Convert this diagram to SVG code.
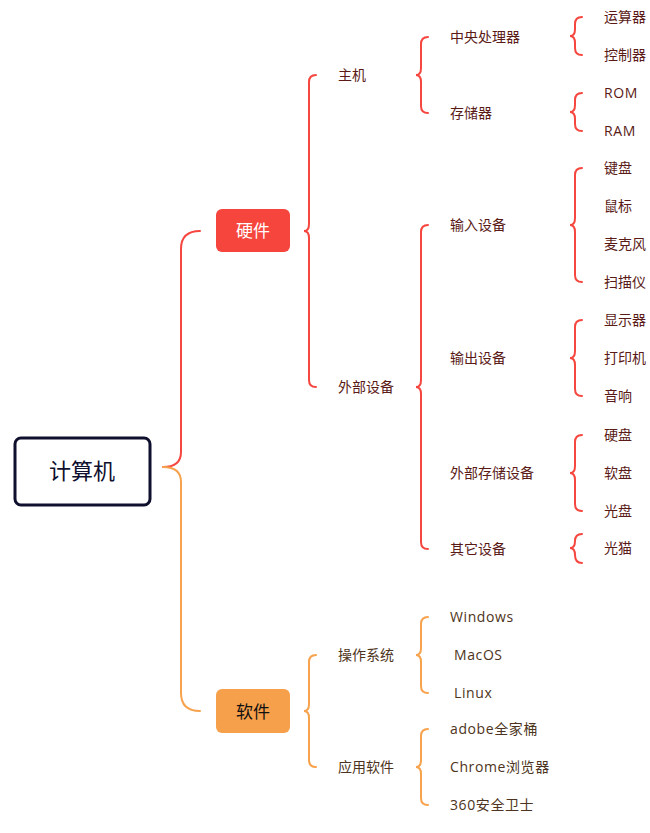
<svg xmlns="http://www.w3.org/2000/svg" width="650" height="833" viewBox="0 0 650 833">
<style>
.t{font-family:"Noto Sans CJK SC","Open Sans",sans-serif;font-size:14px;dominant-baseline:central}
.l{font-family:"Open Sans","Noto Sans CJK SC",sans-serif;font-size:14px;dominant-baseline:central;letter-spacing:0.6px}
.hw{fill:#5a1a16}
.sw{fill:#4d3420}
.br{fill:none;stroke:#f5473f;stroke-width:2;stroke-linecap:round}
.bo{fill:none;stroke:#f7a24d;stroke-width:2;stroke-linecap:round}
</style>
<rect width="650" height="833" fill="#ffffff"/>
<g id="connectors">
<path class="br" stroke-width="2.5" d="M200,231 Q181,231 181,249 L181,452 Q181,467 163,467"/>
<path class="bo" stroke-width="2.5" d="M163,467 Q181,467 181,482 L181,693 Q181,711 200,711"/>
<path class="br" d="M316,75 Q309,75 309,82 L309,224 Q309,231 304,231 Q309,231 309,238 L309,380 Q309,387 316,387"/>
<path class="bo" d="M316,655 Q309,655 309,662 L309,704 Q309,711 304,711 Q309,711 309,718 L309,760 Q309,767 316,767"/>
<path class="br" d="M428,37 Q421,37 421,44 L421,68 Q421,75 416,75 Q421,75 421,82 L421,106 Q421,113 428,113"/>
<path class="br" d="M428,225 Q421,225 421,232 L421,380 Q421,387 416,387 Q421,387 421,394 L421,542 Q421,549 428,549"/>
<path class="bo" d="M428,617 Q421,617 421,624 L421,648 Q421,655 416,655 Q421,655 421,662 L421,686 Q421,693 428,693"/>
<path class="bo" d="M428,729 Q421,729 421,736 L421,760 Q421,767 416,767 Q421,767 421,774 L421,798 Q421,805 428,805"/>
<path class="br" d="M582,17 Q575,17 575,24 L575,29 Q575,36 570,36 Q575,36 575,43 L575,48 Q575,55 582,55"/>
<path class="br" d="M582,93 Q575,93 575,100 L575,105 Q575,112 570,112 Q575,112 575,119 L575,124 Q575,131 582,131"/>
<path class="br" d="M582,168 Q575,168 575,175 L575,218 Q575,225 570,225 Q575,225 575,232 L575,275 Q575,282 582,282"/>
<path class="br" d="M582,320 Q575,320 575,327 L575,351 Q575,358 570,358 Q575,358 575,365 L575,389 Q575,396 582,396"/>
<path class="br" d="M582,435 Q575,435 575,442 L575,466 Q575,473 570,473 Q575,473 575,480 L575,504 Q575,511 582,511"/>
<path class="br" d="M582,534 Q575,534 575,541 Q575,548 570,548 Q575,548 575,555 Q575,563 582,563"/>
</g>
<g id="root">
<rect x="15" y="438" width="135" height="67" rx="6" fill="#ffffff" stroke="#0f0f2e" stroke-width="3"/>
<text x="82" y="469" font-family="Noto Sans CJK SC, sans-serif" font-size="22" fill="#0f0f2e" text-anchor="middle" dominant-baseline="central">计算机</text>
</g>
<g id="hardware">
<rect x="216" y="209" width="74" height="43" rx="6" fill="#f5453d"/>
<text x="253" y="229.5" font-family="Noto Sans CJK SC, sans-serif" font-size="17" fill="#ffffff" text-anchor="middle" dominant-baseline="central">硬件</text>
</g>
<g id="software">
<rect x="216" y="689" width="74" height="44" rx="6" fill="#f7a04b"/>
<text x="253" y="710" font-family="Noto Sans CJK SC, sans-serif" font-size="17" fill="#111111" text-anchor="middle" dominant-baseline="central">软件</text>
</g>
<g id="n-zhuji"><text class="t hw" x="338" y="74">主机</text></g>
<g id="n-waibushebei"><text class="t hw" x="338" y="386">外部设备</text></g>
<g id="n-cpu"><text class="t hw" x="450" y="36">中央处理器</text></g>
<g id="n-cunchuqi"><text class="t hw" x="450" y="112">存储器</text></g>
<g id="n-shuru"><text class="t hw" x="450" y="224">输入设备</text></g>
<g id="n-shuchu"><text class="t hw" x="450" y="357">输出设备</text></g>
<g id="n-waicun"><text class="t hw" x="450" y="472">外部存储设备</text></g>
<g id="n-qita"><text class="t hw" x="450" y="548">其它设备</text></g>
<g id="n-yunsuanqi"><text class="t hw" x="604" y="16">运算器</text></g>
<g id="n-kongzhiqi"><text class="t hw" x="604" y="54">控制器</text></g>
<g id="n-rom"><text class="l hw" x="604" y="92">ROM</text></g>
<g id="n-ram"><text class="l hw" x="604" y="130">RAM</text></g>
<g id="n-jianpan"><text class="t hw" x="604" y="167">键盘</text></g>
<g id="n-shubiao"><text class="t hw" x="604" y="205">鼠标</text></g>
<g id="n-maikefeng"><text class="t hw" x="604" y="243">麦克风</text></g>
<g id="n-saomiaoyi"><text class="t hw" x="604" y="281">扫描仪</text></g>
<g id="n-xianshiqi"><text class="t hw" x="604" y="319">显示器</text></g>
<g id="n-dayinji"><text class="t hw" x="604" y="357">打印机</text></g>
<g id="n-yinxiang"><text class="t hw" x="604" y="395">音响</text></g>
<g id="n-yingpan"><text class="t hw" x="604" y="434">硬盘</text></g>
<g id="n-ruanpan"><text class="t hw" x="604" y="472">软盘</text></g>
<g id="n-guangpan"><text class="t hw" x="604" y="510">光盘</text></g>
<g id="n-guangmao"><text class="t hw" x="604" y="547">光猫</text></g>
<g id="n-os"><text class="t sw" x="338" y="654">操作系统</text></g>
<g id="n-app"><text class="t sw" x="338" y="766">应用软件</text></g>
<g id="n-windows"><text class="l sw" x="450" y="616">Windows</text></g>
<g id="n-macos"><text class="l sw" x="454" y="654">MacOS</text></g>
<g id="n-linux"><text class="l sw" x="454" y="692">Linux</text></g>
<g id="n-adobe"><text class="l sw" x="450" y="728">adobe全家桶</text></g>
<g id="n-chrome"><text class="l sw" x="450" y="766">Chrome浏览器</text></g>
<g id="n-360"><text class="l sw" x="450" y="804">360安全卫士</text></g>
</svg>
